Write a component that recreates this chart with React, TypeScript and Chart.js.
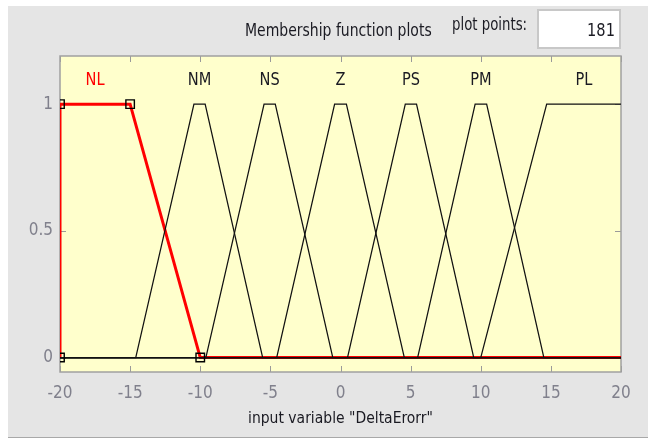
import React, { useEffect, useRef } from "react";
import { Chart, registerables } from "chart.js";

Chart.register(...registerables);

// ---- data ----
const X_MIN = -20;
const X_MAX = 20;
const xTickValues = [-20, -15, -10, -5, 0, 5, 10, 15, 20];
const yTickValues = [0, 0.5, 1];
const mfNames = ["NL", "NM", "NS", "Z", "PS", "PM", "PL"];
// trapezoid parameters [a, b, c, d]
const mfNL = [-20, -20, -15, -10];
const mfNM = [-14.6, -10.45, -9.65, -5.55];
const mfNS = [-9.6, -5.45, -4.65, -0.55];
const mfZ = [-4.55, -0.42, 0.42, 4.55];
const mfPS = [0.5, 4.62, 5.42, 9.5];
const mfPM = [5.5, 9.6, 10.42, 14.5];
const mfPL = [10, 14.7, 20, 20];
const mfParams = [mfNL, mfNM, mfNS, mfZ, mfPS, mfPM, mfPL];
const selectedIndex = 0;
const plotPoints = "181";
const axisTitle = 'input variable "DeltaErorr"';
const chartTitle = "Membership function plots";

const FONT = "'Liberation Sans Narrow', 'Arial Narrow', 'DejaVu Sans Condensed', 'Liberation Sans', sans-serif";

function mfPoints(p: number[]) {
  const [a, b, c, d] = p;
  const pts: { x: number; y: number }[] = [];
  if (a > X_MIN) pts.push({ x: X_MIN, y: 0 });
  pts.push({ x: a, y: 0 });
  pts.push({ x: b, y: 1 });
  pts.push({ x: c, y: 1 });
  if (!(c >= X_MAX)) pts.push({ x: d, y: 0 });
  if (d < X_MAX) pts.push({ x: X_MAX, y: 0 });
  return pts;
}

const framePlugin = {
  id: "frame",
  beforeDatasetsDraw(chart: any) {
    const { ctx, chartArea: ca, scales } = chart;
    const xs = scales.x;
    const ys = scales.y;
    ctx.save();
    ctx.fillStyle = "#ffffcc";
    ctx.fillRect(ca.left, ca.top, ca.right - ca.left, ca.bottom - ca.top);
    ctx.strokeStyle = "#9a9a9a";
    ctx.lineWidth = 1;
    const tl = 6;
    xTickValues.forEach((v) => {
      const px = Math.round(xs.getPixelForValue(v)) + 0.5;
      ctx.beginPath();
      ctx.moveTo(px, ca.bottom);
      ctx.lineTo(px, ca.bottom - tl);
      ctx.moveTo(px, ca.top);
      ctx.lineTo(px, ca.top + tl);
      ctx.stroke();
    });
    yTickValues.forEach((v) => {
      const py = Math.round(ys.getPixelForValue(v)) + 0.5;
      ctx.beginPath();
      ctx.moveTo(ca.left, py);
      ctx.lineTo(ca.left + tl, py);
      ctx.moveTo(ca.right, py);
      ctx.lineTo(ca.right - tl, py);
      ctx.stroke();
    });
    ctx.strokeStyle = "#a0a0a0";
    ctx.lineWidth = 1.5;
    ctx.strokeRect(ca.left, ca.top, ca.right - ca.left, ca.bottom - ca.top);
    ctx.restore();
  },
  afterDatasetsDraw(chart: any) {
    const { ctx, scales } = chart;
    const xs = scales.x;
    ctx.save();
    // membership function names
    ctx.font = "18px " + FONT;
    ctx.textAlign = "center";
    ctx.textBaseline = "middle";
    mfParams.forEach((p, i) => {
      const cx = (p[1] + p[2]) / 2;
      ctx.fillStyle = i === selectedIndex ? "#ff0000" : "#1a1a22";
      const px = xs.getPixelForValue(cx);
      ctx.save();
      ctx.translate(px, 80);
      ctx.scale(0.9, 1);
      ctx.fillText(mfNames[i], 0, 0);
      ctx.restore();
    });
    ctx.restore();
  },
};

export default function App() {
  const ref = useRef<HTMLCanvasElement>(null);
  useEffect(() => {
    const cv = ref.current!;
    const sel = mfParams[selectedIndex];
    const datasets: any[] = [];
    datasets.push({
      label: "markers",
      data: [
        { x: sel[0], y: 0 },
        { x: sel[1], y: 1 },
        { x: sel[2], y: 1 },
        { x: sel[3], y: 0 },
      ],
      showLine: false,
      pointStyle: "rect",
      pointRadius: 6,
      pointBorderWidth: 1.4,
      pointBorderColor: "#000000",
      pointBackgroundColor: "rgba(0,0,0,0)",
      clip: 0,
    });
    mfParams.forEach((p, i) => {
      if (i === selectedIndex) return;
      datasets.push({
        label: mfNames[i],
        data: mfPoints(p),
        showLine: true,
        borderColor: "#111111",
        borderWidth: 1.25,
        pointRadius: 0,
        tension: 0,
      });
    });
    datasets.push({
      label: mfNames[selectedIndex],
      data: mfPoints(sel),
      showLine: true,
      borderColor: "#ff0000",
      borderWidth: 3,
      pointRadius: 0,
      tension: 0,
    });

    const chart = new Chart(cv, {
      type: "scatter",
      data: { datasets },
      options: {
        animation: false,
        responsive: false,
        devicePixelRatio: 1,
        layout: { padding: { left: 0, right: 27, top: 56, bottom: 0 } },
        plugins: { legend: { display: false }, tooltip: { enabled: false }, title: { display: false } },
        events: [],
        scales: {
          x: {
            type: "linear",
            min: X_MIN,
            max: X_MAX,
            grid: { display: false, drawTicks: false },
            border: { display: false },
            afterBuildTicks: (s: any) => {
              s.ticks = xTickValues.map((v) => ({ value: v }));
            },
            afterFit: (s: any) => {
              s.height = 68;
            },
            ticks: {
              color: "#80808c",
              font: { family: FONT, size: 17 },
              padding: 11,
              maxRotation: 0,
              autoSkip: false,
            },
            title: {
              display: true,
              text: axisTitle,
              color: "#1a1a22",
              font: { family: FONT, size: 15.5 },
              padding: { top: 0, bottom: 12 },
            },
          },
          y: {
            type: "linear",
            min: -0.057,
            max: 1.19,
            grid: { display: false, drawTicks: false },
            border: { display: false },
            afterBuildTicks: (s: any) => {
              s.ticks = yTickValues.map((v) => ({ value: v }));
            },
            afterFit: (s: any) => {
              s.width = 60;
            },
            ticks: {
              color: "#80808c",
              font: { family: FONT, size: 17 },
              padding: 7,
              autoSkip: false,
              callback: (v: any) => String(v),
            },
          },
        },
      },
      plugins: [framePlugin],
    } as any);
    return () => chart.destroy();
  }, []);

  return (
    <div
      style={{
        position: "fixed",
        left: 0,
        top: 0,
        width: 648,
        height: 440,
        background: "#ffffff",
        overflow: "hidden",
        fontFamily: FONT,
      }}
    >
      <div
        style={{
          position: "absolute",
          left: 8,
          top: 6,
          width: 640,
          height: 431,
          background: "#e5e5e5",
          borderBottom: "1px solid #a8a8a8",
        }}
      />
      <canvas
        ref={ref}
        width={648}
        height={440}
        style={{ position: "absolute", left: 0, top: 0, width: 648, height: 440 }}
      />
      <div
        style={{
          position: "absolute",
          left: 245,
          top: 20,
          fontSize: 17,
          lineHeight: "20px",
          color: "#1a1a22",
          whiteSpace: "nowrap",
          transform: "scaleX(0.915)",
          transformOrigin: "left center",
        }}
      >
        {chartTitle}
      </div>
      <div
        style={{
          position: "absolute",
          left: 452,
          top: 14,
          fontSize: 17,
          lineHeight: "20px",
          color: "#1a1a22",
          whiteSpace: "nowrap",
          transform: "scaleX(0.87)",
          transformOrigin: "left center",
        }}
      >
        plot points:
      </div>
      <div
        style={{
          position: "absolute",
          left: 537,
          top: 9,
          width: 84,
          height: 40,
          boxSizing: "border-box",
          background: "#ffffff",
          border: "2px solid #c8c8c8",
        }}
      />
      <div
        style={{
          position: "absolute",
          right: 648 - 615,
          top: 20,
          fontSize: 18,
          lineHeight: "20px",
          color: "#1a1a22",
          whiteSpace: "nowrap",
          transform: "scaleX(0.9)",
          transformOrigin: "right center",
        }}
      >
        {plotPoints}
      </div>
    </div>
  );
}
